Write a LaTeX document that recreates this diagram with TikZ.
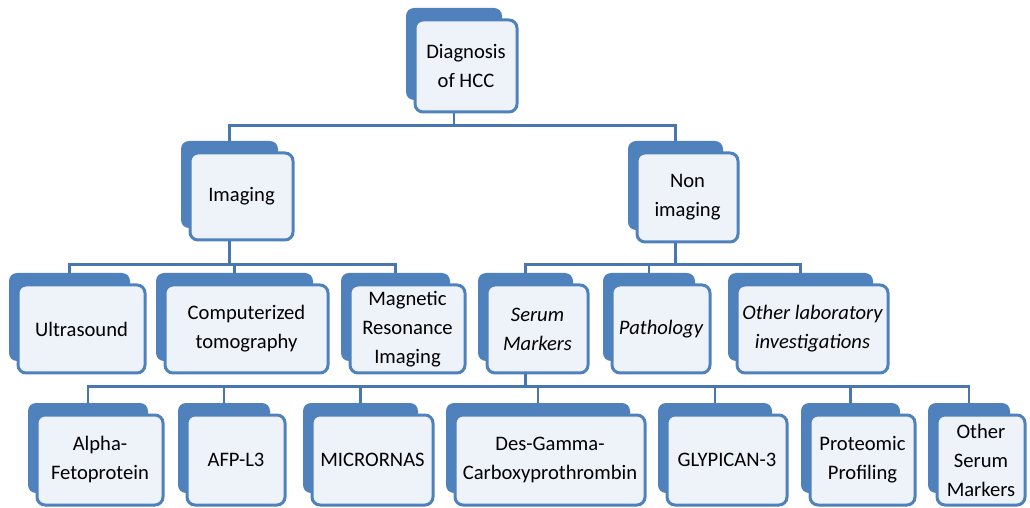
\documentclass[tikz,border=0pt]{standalone}
\usepackage{fontspec}
\setmainfont{Carlito}
\usetikzlibrary{calc}

\definecolor{tabblue}{RGB}{79,129,189}
\definecolor{tabfill}{RGB}{238,242,249}
\definecolor{linkblue}{RGB}{72,118,175}

\tikzset{
  backtab/.style={fill=tabblue, rounded corners=4pt, inner sep=0pt},
  fronttab/.style={draw=tabblue, line width=1.5pt, fill=tabfill, rounded corners=4pt,
    inner sep=0pt, align=center, text=black, font=\fontsize{10.3}{14.5}\selectfont},
  conn/.style={draw=linkblue, line width=1.3pt}
}

% name, left, top, right, bottom, text (pixel units)
\newcommand{\tabnode}[6]{%
  \node[backtab, minimum width={(#4-#2-6)*0.5pt}, minimum height={(#5-#3)*0.5pt}]
    (#1b) at ({(#2+#4)/2-12},{(#3+#5)/2-12}) {};
  \node[fronttab, minimum width={(#4-#2)*0.5pt}, minimum height={(#5-#3)*0.5pt}]
    (#1) at ({(#2+#4)/2},{(#3+#5)/2}) {#6};
}

\begin{document}
\begin{tikzpicture}[x=0.5pt, y=-0.5pt]
  \useasboundingbox (0,0) rectangle (1030,508);

  % top
  \tabnode{root}{415}{20}{517}{112}{Diagnosis\\of HCC}
  \tabnode{img}{190}{153}{293}{240}{Imaging}
  \tabnode{nonimg}{637}{153}{738}{242}{Non\\imaging}

  % second row
  \tabnode{us}{18}{285}{145}{373}{Ultrasound}
  \tabnode{ct}{165}{285}{328}{373}{Computerized\\tomography}
  \tabnode{mri}{350}{285}{465}{373}{Magnetic\\Resonance\\Imaging}
  \tabnode{serum}{487}{285}{588}{373}{\itshape Serum\\\itshape Markers}
  \tabnode{patho}{612}{285}{710}{373}{\itshape Pathology}
  \tabnode{lab}{737}{285}{888}{373}{\itshape Other laboratory\\\itshape investigations}

  % serum markers
  \tabnode{afp}{37}{415}{163}{505}{Alpha-\\Fetoprotein}
  \tabnode{afpl}{187}{415}{285}{505}{AFP-L3}
  \tabnode{mirna}{312}{415}{433}{505}{MICRORNAS}
  \tabnode{dcp}{455}{415}{645}{505}{Des-Gamma-\\Carboxyprothrombin}
  \tabnode{gpc}{667}{415}{787}{505}{GLYPICAN-3}
  \tabnode{prot}{810}{415}{915}{505}{Proteomic\\Profiling}
  \tabnode{osm}{937}{415}{1025}{505}{Other\\Serum\\Markers}

  % connectors
  \coordinate (j1) at ($(rootb.south |- root.south)+(0,12)$);
  \draw[conn] (rootb.south |- root.south) -- (j1);
  \draw[conn] (imgb.north) |- (j1) -| (nonimgb.north);

  \coordinate (j2) at ($(imgb.south |- img.south)+(0,23)$);
  \draw[conn] (imgb.south |- img.south) -- (j2);
  \draw[conn] (usb.north) |- (j2) -| (mrib.north);
  \draw[conn] (ctb.north) -- (ctb.north |- j2);

  \coordinate (j3) at ($(nonimgb.south |- nonimg.south)+(0,21)$);
  \draw[conn] (nonimgb.south |- nonimg.south) -- (j3);
  \draw[conn] (serumb.north) |- (j3) -| (labb.north);
  \draw[conn] (pathob.north) -- (pathob.north |- j3);

  \coordinate (j4) at ($(serumb.south |- serum.south)+(0,12)$);
  \draw[conn] (serumb.south |- serum.south) -- (j4);
  \draw[conn] (afpb.north) |- (j4) -| (osmb.north);
  \foreach \n in {afpl, mirna, dcp, gpc, prot}
    \draw[conn] (\n b.north) -- (\n b.north |- j4);
\end{tikzpicture}
\end{document}
